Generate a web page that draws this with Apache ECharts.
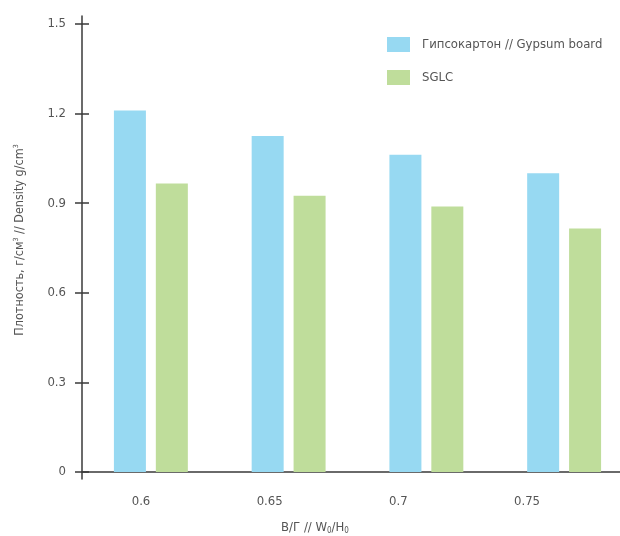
<!DOCTYPE html>
<html>
<head>
<meta charset="utf-8">
<script src="https://cdn.jsdelivr.net/npm/echarts@6/dist/echarts.min.js"></script>
<style>html,body{margin:0;padding:0;background:#fff;overflow:hidden;width:620px;height:536px}#c{width:633px;height:536px}</style>
</head>
<body>
<div id="c"></div>
<script>
var categories = ['0.6', '0.65', '0.7', '0.75'];
var xTickValues = [0.6, 0.65, 0.7, 0.75];
var gypsum = [1.21, 1.125, 1.062, 1.0];
var sglc = [0.966, 0.925, 0.889, 0.815];
var yTickValues = [0, 0.3, 0.6, 0.9, 1.2, 1.5];
var seriesNames = ['Гипсокартон // Gypsum board', 'SGLC'];

var FONT = '"DejaVu Sans Condensed", "Liberation Sans Narrow", "Roboto", sans-serif';
var TXT = '#555';
var AX = '#3a3a3a';

var chart = echarts.init(document.getElementById('c'));
var option = {
  animation: false,
  textStyle: { fontFamily: FONT },
  title: {
    text: 'В/Г // W{sub|0}/H{sub|0}',
    left: 315, top: 520, textAlign: 'center', padding: 0,
    textStyle: {
      fontFamily: FONT, fontSize: 13, fontWeight: 'normal', color: TXT,
      rich: { sub: { fontSize: 8, verticalAlign: 'bottom', padding: [7, 0, 0, 0], color: TXT, fontFamily: FONT } }
    }
  },
  legend: {
    orient: 'vertical', left: 387, top: 37, padding: 0,
    itemWidth: 23, itemHeight: 15, itemGap: 18,
    icon: 'rect',
    data: seriesNames,
    textStyle: { fontFamily: FONT, fontSize: 13, color: TXT, padding: [0, 0, 0, 7] }
  },
  grid: [
    { left: 82, right: 13, top: 16, bottom: 57 },
    { left: 82, right: 0, top: 16, bottom: 57 }
  ],
  xAxis: [
    {
      type: 'value', gridIndex: 0, min: 0.57708, max: 0.78613,
      splitLine: { show: false },
      axisLine: { onZero: true, lineStyle: { color: AX, width: 1.5 } },
      axisTick: { show: false },
      axisLabel: { customValues: xTickValues, color: TXT, fontSize: 13, margin: 16, fontFamily: FONT,
        formatter: function (v) { return String(v); } }
    },
    {
      type: 'category', gridIndex: 1, data: categories,
      axisLine: { show: false }, axisTick: { show: false }, axisLabel: { show: false }
    }
  ],
  yAxis: [
    {
      type: 'value', gridIndex: 0, min: -0.0234, max: 1.5268,
      splitLine: { show: false },
      axisLine: { show: true, onZero: false, lineStyle: { color: AX, width: 1.5 } },
      axisTick: { show: true, customValues: yTickValues, length: 7, lineStyle: { color: AX, width: 1.5 } },
      axisLabel: { customValues: yTickValues, color: TXT, fontSize: 13, margin: 16, fontFamily: FONT,
        formatter: function (v) { return String(v); } },
      name: 'Плотность, г/см{sup|3} // Density g/cm{sup|3}',
      nameLocation: 'middle', nameGap: 55,
      nameTextStyle: {
        color: TXT, fontSize: 12.5, fontFamily: FONT, padding: [0, 0, 0, 15],
        rich: { sup: { fontSize: 7, verticalAlign: 'top', padding: [0, 0, 7, 0], color: TXT, fontFamily: FONT } }
      }
    },
    {
      type: 'value', gridIndex: 0, min: -0.0234, max: 1.5268, position: 'left',
      splitLine: { show: false },
      axisLine: { show: false, onZero: false },
      axisTick: { show: true, inside: true, customValues: yTickValues, length: 7, lineStyle: { color: AX, width: 1.5 } },
      axisLabel: { show: false }
    },
    {
      type: 'value', gridIndex: 1, min: -0.0234, max: 1.5268, show: false
    }
  ],
  series: [
    {
      name: seriesNames[0], type: 'bar', xAxisIndex: 1, yAxisIndex: 2,
      data: gypsum, barWidth: 32, barGap: '31%',
      itemStyle: { color: '#97D9F2' }
    },
    {
      name: seriesNames[1], type: 'bar', xAxisIndex: 1, yAxisIndex: 2,
      data: sglc, barWidth: 32, barGap: '31%',
      itemStyle: { color: '#BFDD9B' }
    }
  ]
};
chart.setOption(option);
</script>
</body>
</html>
